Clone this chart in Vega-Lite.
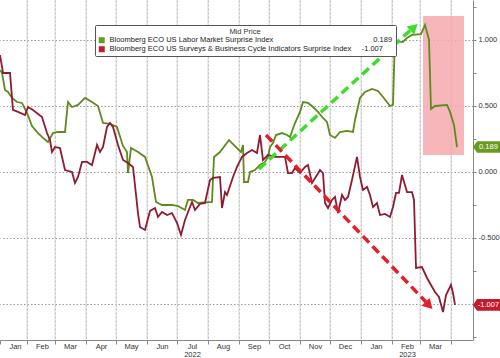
{
  "$schema": "https://vega.github.io/schema/vega-lite/v6.json",
  "width": 473,
  "height": 340,
  "autosize": {"type": "none"},
  "padding": {"left": 0, "top": 0, "right": 27, "bottom": 18},
  "background": "white",
  "config": {"font": "Liberation Sans", "view": {"stroke": null}},
  "datasets": {
    "months": [
      {"date": "2022-02-01", "value": 1.303, "value2": -1.273},
      {"date": "2022-03-01", "value": 1.303, "value2": -1.273},
      {"date": "2022-04-01", "value": 1.303, "value2": -1.273},
      {"date": "2022-05-01", "value": 1.303, "value2": -1.273},
      {"date": "2022-06-01", "value": 1.303, "value2": -1.273},
      {"date": "2022-07-01", "value": 1.303, "value2": -1.273},
      {"date": "2022-08-01", "value": 1.303, "value2": -1.273},
      {"date": "2022-09-01", "value": 1.303, "value2": -1.273},
      {"date": "2022-10-01", "value": 1.303, "value2": -1.273},
      {"date": "2022-11-01", "value": 1.303, "value2": -1.273},
      {"date": "2022-12-01", "value": 1.303, "value2": -1.273},
      {"date": "2023-01-01", "value": 1.303, "value2": -1.273},
      {"date": "2023-02-01", "value": 1.303, "value2": -1.273},
      {"date": "2023-03-01", "value": 1.303, "value2": -1.273},
      {"date": "2023-04-01", "value": 1.303, "value2": -1.273}
    ],
    "main": [
      {"date": "2022-01-05", "series": "Labor", "value": 0.773},
      {"date": "2022-01-07", "series": "Labor", "value": 0.750},
      {"date": "2022-01-10", "series": "Labor", "value": 0.621},
      {"date": "2022-01-13", "series": "Labor", "value": 0.606},
      {"date": "2022-01-17", "series": "Labor", "value": 0.561},
      {"date": "2022-01-22", "series": "Labor", "value": 0.530},
      {"date": "2022-01-27", "series": "Labor", "value": 0.523},
      {"date": "2022-02-01", "series": "Labor", "value": 0.447},
      {"date": "2022-02-06", "series": "Labor", "value": 0.348},
      {"date": "2022-02-12", "series": "Labor", "value": 0.295},
      {"date": "2022-02-17", "series": "Labor", "value": 0.258},
      {"date": "2022-02-22", "series": "Labor", "value": 0.227},
      {"date": "2022-02-27", "series": "Labor", "value": 0.295},
      {"date": "2022-03-04", "series": "Labor", "value": 0.303},
      {"date": "2022-03-11", "series": "Labor", "value": 0.303},
      {"date": "2022-03-14", "series": "Labor", "value": 0.530},
      {"date": "2022-03-18", "series": "Labor", "value": 0.492},
      {"date": "2022-03-24", "series": "Labor", "value": 0.508},
      {"date": "2022-03-31", "series": "Labor", "value": 0.561},
      {"date": "2022-04-07", "series": "Labor", "value": 0.530},
      {"date": "2022-04-13", "series": "Labor", "value": 0.500},
      {"date": "2022-04-18", "series": "Labor", "value": 0.371},
      {"date": "2022-04-25", "series": "Labor", "value": 0.364},
      {"date": "2022-05-02", "series": "Labor", "value": 0.341},
      {"date": "2022-05-08", "series": "Labor", "value": 0.197},
      {"date": "2022-05-12", "series": "Labor", "value": 0.151},
      {"date": "2022-05-13", "series": "Labor", "value": -0.008},
      {"date": "2022-05-16", "series": "Labor", "value": 0.182},
      {"date": "2022-05-23", "series": "Labor", "value": 0.151},
      {"date": "2022-05-30", "series": "Labor", "value": 0.114},
      {"date": "2022-06-06", "series": "Labor", "value": -0.038},
      {"date": "2022-06-10", "series": "Labor", "value": -0.227},
      {"date": "2022-06-16", "series": "Labor", "value": -0.250},
      {"date": "2022-06-26", "series": "Labor", "value": -0.250},
      {"date": "2022-07-02", "series": "Labor", "value": -0.258},
      {"date": "2022-07-09", "series": "Labor", "value": -0.288},
      {"date": "2022-07-12", "series": "Labor", "value": -0.212},
      {"date": "2022-07-17", "series": "Labor", "value": -0.212},
      {"date": "2022-07-22", "series": "Labor", "value": -0.235},
      {"date": "2022-08-05", "series": "Labor", "value": -0.227},
      {"date": "2022-08-07", "series": "Labor", "value": 0.114},
      {"date": "2022-08-13", "series": "Labor", "value": 0.151},
      {"date": "2022-08-22", "series": "Labor", "value": 0.242},
      {"date": "2022-08-29", "series": "Labor", "value": 0.189},
      {"date": "2022-09-03", "series": "Labor", "value": 0.151},
      {"date": "2022-09-05", "series": "Labor", "value": 0.205},
      {"date": "2022-09-06", "series": "Labor", "value": -0.076},
      {"date": "2022-09-10", "series": "Labor", "value": -0.076},
      {"date": "2022-09-12", "series": "Labor", "value": 0.000},
      {"date": "2022-09-17", "series": "Labor", "value": 0.015},
      {"date": "2022-09-22", "series": "Labor", "value": 0.053},
      {"date": "2022-09-27", "series": "Labor", "value": 0.076},
      {"date": "2022-09-30", "series": "Labor", "value": 0.114},
      {"date": "2022-10-02", "series": "Labor", "value": 0.189},
      {"date": "2022-10-05", "series": "Labor", "value": 0.220},
      {"date": "2022-10-08", "series": "Labor", "value": 0.280},
      {"date": "2022-10-14", "series": "Labor", "value": 0.295},
      {"date": "2022-10-19", "series": "Labor", "value": 0.280},
      {"date": "2022-10-22", "series": "Labor", "value": 0.265},
      {"date": "2022-10-27", "series": "Labor", "value": 0.371},
      {"date": "2022-11-01", "series": "Labor", "value": 0.455},
      {"date": "2022-11-04", "series": "Labor", "value": 0.530},
      {"date": "2022-11-09", "series": "Labor", "value": 0.523},
      {"date": "2022-11-14", "series": "Labor", "value": 0.492},
      {"date": "2022-11-19", "series": "Labor", "value": 0.455},
      {"date": "2022-11-24", "series": "Labor", "value": 0.409},
      {"date": "2022-11-28", "series": "Labor", "value": 0.379},
      {"date": "2022-12-01", "series": "Labor", "value": 0.280},
      {"date": "2022-12-06", "series": "Labor", "value": 0.258},
      {"date": "2022-12-11", "series": "Labor", "value": 0.303},
      {"date": "2022-12-18", "series": "Labor", "value": 0.311},
      {"date": "2022-12-24", "series": "Labor", "value": 0.303},
      {"date": "2022-12-26", "series": "Labor", "value": 0.394},
      {"date": "2022-12-31", "series": "Labor", "value": 0.561},
      {"date": "2023-01-05", "series": "Labor", "value": 0.606},
      {"date": "2023-01-12", "series": "Labor", "value": 0.629},
      {"date": "2023-01-18", "series": "Labor", "value": 0.614},
      {"date": "2023-01-23", "series": "Labor", "value": 0.568},
      {"date": "2023-01-30", "series": "Labor", "value": 0.500},
      {"date": "2023-02-02", "series": "Labor", "value": 0.508},
      {"date": "2023-02-04", "series": "Labor", "value": 1.038},
      {"date": "2023-02-06", "series": "Labor", "value": 0.985},
      {"date": "2023-02-12", "series": "Labor", "value": 0.985},
      {"date": "2023-02-16", "series": "Labor", "value": 1.015},
      {"date": "2023-02-21", "series": "Labor", "value": 1.038},
      {"date": "2023-03-02", "series": "Labor", "value": 1.045},
      {"date": "2023-03-06", "series": "Labor", "value": 1.114},
      {"date": "2023-03-10", "series": "Labor", "value": 1.003},
      {"date": "2023-03-12", "series": "Labor", "value": 0.477},
      {"date": "2023-03-16", "series": "Labor", "value": 0.500},
      {"date": "2023-03-28", "series": "Labor", "value": 0.508},
      {"date": "2023-03-31", "series": "Labor", "value": 0.455},
      {"date": "2023-04-04", "series": "Labor", "value": 0.356},
      {"date": "2023-04-07", "series": "Labor", "value": 0.189},
      {"date": "2022-01-05", "series": "Surveys", "value": 0.886},
      {"date": "2022-01-08", "series": "Surveys", "value": 0.750},
      {"date": "2022-01-15", "series": "Surveys", "value": 0.750},
      {"date": "2022-01-18", "series": "Surveys", "value": 0.470},
      {"date": "2022-01-23", "series": "Surveys", "value": 0.455},
      {"date": "2022-01-30", "series": "Surveys", "value": 0.432},
      {"date": "2022-02-02", "series": "Surveys", "value": 0.492},
      {"date": "2022-02-07", "series": "Surveys", "value": 0.470},
      {"date": "2022-02-16", "series": "Surveys", "value": 0.417},
      {"date": "2022-02-21", "series": "Surveys", "value": 0.295},
      {"date": "2022-02-24", "series": "Surveys", "value": 0.242},
      {"date": "2022-02-26", "series": "Surveys", "value": 0.151},
      {"date": "2022-03-01", "series": "Surveys", "value": 0.189},
      {"date": "2022-03-06", "series": "Surveys", "value": 0.182},
      {"date": "2022-03-11", "series": "Surveys", "value": 0.015},
      {"date": "2022-03-18", "series": "Surveys", "value": 0.000},
      {"date": "2022-03-21", "series": "Surveys", "value": -0.083},
      {"date": "2022-03-24", "series": "Surveys", "value": -0.038},
      {"date": "2022-03-28", "series": "Surveys", "value": 0.076},
      {"date": "2022-04-02", "series": "Surveys", "value": 0.076},
      {"date": "2022-04-07", "series": "Surveys", "value": 0.053},
      {"date": "2022-04-12", "series": "Surveys", "value": 0.205},
      {"date": "2022-04-15", "series": "Surveys", "value": 0.151},
      {"date": "2022-04-18", "series": "Surveys", "value": 0.189},
      {"date": "2022-04-22", "series": "Surveys", "value": 0.341},
      {"date": "2022-04-25", "series": "Surveys", "value": 0.371},
      {"date": "2022-04-28", "series": "Surveys", "value": 0.341},
      {"date": "2022-05-03", "series": "Surveys", "value": 0.205},
      {"date": "2022-05-08", "series": "Surveys", "value": 0.091},
      {"date": "2022-05-13", "series": "Surveys", "value": 0.068},
      {"date": "2022-05-18", "series": "Surveys", "value": 0.038},
      {"date": "2022-05-23", "series": "Surveys", "value": -0.311},
      {"date": "2022-05-25", "series": "Surveys", "value": -0.417},
      {"date": "2022-05-30", "series": "Surveys", "value": -0.439},
      {"date": "2022-06-04", "series": "Surveys", "value": -0.295},
      {"date": "2022-06-09", "series": "Surveys", "value": -0.273},
      {"date": "2022-06-12", "series": "Surveys", "value": -0.341},
      {"date": "2022-06-16", "series": "Surveys", "value": -0.303},
      {"date": "2022-06-21", "series": "Surveys", "value": -0.326},
      {"date": "2022-06-26", "series": "Surveys", "value": -0.311},
      {"date": "2022-07-01", "series": "Surveys", "value": -0.386},
      {"date": "2022-07-05", "series": "Surveys", "value": -0.477},
      {"date": "2022-07-09", "series": "Surveys", "value": -0.364},
      {"date": "2022-07-16", "series": "Surveys", "value": -0.227},
      {"date": "2022-07-19", "series": "Surveys", "value": -0.288},
      {"date": "2022-07-24", "series": "Surveys", "value": -0.242},
      {"date": "2022-07-29", "series": "Surveys", "value": -0.235},
      {"date": "2022-08-03", "series": "Surveys", "value": -0.061},
      {"date": "2022-08-06", "series": "Surveys", "value": -0.045},
      {"date": "2022-08-13", "series": "Surveys", "value": -0.038},
      {"date": "2022-08-15", "series": "Surveys", "value": -0.273},
      {"date": "2022-08-18", "series": "Surveys", "value": -0.152},
      {"date": "2022-08-20", "series": "Surveys", "value": -0.174},
      {"date": "2022-08-26", "series": "Surveys", "value": -0.038},
      {"date": "2022-08-30", "series": "Surveys", "value": 0.038},
      {"date": "2022-09-04", "series": "Surveys", "value": 0.114},
      {"date": "2022-09-09", "series": "Surveys", "value": 0.144},
      {"date": "2022-09-14", "series": "Surveys", "value": 0.167},
      {"date": "2022-09-19", "series": "Surveys", "value": 0.144},
      {"date": "2022-09-22", "series": "Surveys", "value": 0.280},
      {"date": "2022-09-25", "series": "Surveys", "value": 0.091},
      {"date": "2022-09-30", "series": "Surveys", "value": 0.129},
      {"date": "2022-10-07", "series": "Surveys", "value": 0.114},
      {"date": "2022-10-17", "series": "Surveys", "value": 0.114},
      {"date": "2022-10-20", "series": "Surveys", "value": -0.008},
      {"date": "2022-10-24", "series": "Surveys", "value": -0.008},
      {"date": "2022-10-27", "series": "Surveys", "value": 0.030},
      {"date": "2022-11-01", "series": "Surveys", "value": -0.008},
      {"date": "2022-11-06", "series": "Surveys", "value": 0.038},
      {"date": "2022-11-09", "series": "Surveys", "value": 0.053},
      {"date": "2022-11-13", "series": "Surveys", "value": -0.083},
      {"date": "2022-11-18", "series": "Surveys", "value": -0.023},
      {"date": "2022-11-21", "series": "Surveys", "value": 0.015},
      {"date": "2022-11-24", "series": "Surveys", "value": -0.008},
      {"date": "2022-11-26", "series": "Surveys", "value": -0.235},
      {"date": "2022-11-29", "series": "Surveys", "value": -0.273},
      {"date": "2022-12-03", "series": "Surveys", "value": -0.212},
      {"date": "2022-12-06", "series": "Surveys", "value": -0.189},
      {"date": "2022-12-09", "series": "Surveys", "value": -0.311},
      {"date": "2022-12-13", "series": "Surveys", "value": -0.174},
      {"date": "2022-12-16", "series": "Surveys", "value": -0.212},
      {"date": "2022-12-19", "series": "Surveys", "value": -0.189},
      {"date": "2022-12-23", "series": "Surveys", "value": -0.061},
      {"date": "2022-12-28", "series": "Surveys", "value": 0.114},
      {"date": "2022-12-31", "series": "Surveys", "value": -0.038},
      {"date": "2023-01-03", "series": "Surveys", "value": -0.136},
      {"date": "2023-01-07", "series": "Surveys", "value": -0.114},
      {"date": "2023-01-10", "series": "Surveys", "value": -0.174},
      {"date": "2023-01-13", "series": "Surveys", "value": -0.265},
      {"date": "2023-01-17", "series": "Surveys", "value": -0.235},
      {"date": "2023-01-20", "series": "Surveys", "value": -0.326},
      {"date": "2023-01-25", "series": "Surveys", "value": -0.318},
      {"date": "2023-01-30", "series": "Surveys", "value": -0.341},
      {"date": "2023-02-02", "series": "Surveys", "value": -0.265},
      {"date": "2023-02-05", "series": "Surveys", "value": -0.159},
      {"date": "2023-02-08", "series": "Surveys", "value": -0.159},
      {"date": "2023-02-11", "series": "Surveys", "value": -0.023},
      {"date": "2023-02-16", "series": "Surveys", "value": -0.152},
      {"date": "2023-02-21", "series": "Surveys", "value": -0.152},
      {"date": "2023-02-23", "series": "Surveys", "value": -0.212},
      {"date": "2023-02-25", "series": "Surveys", "value": -0.727},
      {"date": "2023-03-03", "series": "Surveys", "value": -0.720},
      {"date": "2023-03-08", "series": "Surveys", "value": -0.803},
      {"date": "2023-03-16", "series": "Surveys", "value": -0.909},
      {"date": "2023-03-20", "series": "Surveys", "value": -0.947},
      {"date": "2023-03-24", "series": "Surveys", "value": -1.061},
      {"date": "2023-03-27", "series": "Surveys", "value": -0.932},
      {"date": "2023-04-01", "series": "Surveys", "value": -0.856},
      {"date": "2023-04-03", "series": "Surveys", "value": -0.917},
      {"date": "2023-04-05", "series": "Surveys", "value": -1.007}
    ],
    "shade": [
      {"date": "2023-03-04", "date2": "2023-04-14", "value": 1.182, "value2": 0.129}
    ],
    "arrows": [
      {"arrow": "up", "date": "2022-09-21", "value": 0.023, "date2": "2023-02-19", "value2": 1.071},
      {"arrow": "down", "date": "2022-09-28", "value": 0.280, "date2": "2023-03-07", "value2": -0.985}
    ],
    "heads": [
      {"arrow": "up", "date": "2023-02-23", "value": 1.096},
      {"arrow": "down", "date": "2023-03-10", "value": -1.011}
    ],
    "badges": [
      {"date": "2023-04-07", "value": 0.189, "label": "0.189", "series": "Labor"},
      {"date": "2023-04-07", "value": -1.007, "label": "-1.007", "series": "Surveys"}
    ]
  },
  "encoding": {
    "x": {
      "field": "date", "type": "temporal",
      "scale": {"domain": [{"year": 2022, "month": 1, "date": 5}, {"year": 2023, "month": 4, "date": 23}]},
      "axis": {
        "orient": "bottom", "title": null,
        "values": [
          {"year": 2022, "month": 1, "date": 5},
          {"year": 2022, "month": 2, "date": 1}, {"year": 2022, "month": 3, "date": 1}, {"year": 2022, "month": 4, "date": 1},
          {"year": 2022, "month": 5, "date": 1}, {"year": 2022, "month": 6, "date": 1}, {"year": 2022, "month": 7, "date": 1},
          {"year": 2022, "month": 8, "date": 1}, {"year": 2022, "month": 9, "date": 1}, {"year": 2022, "month": 10, "date": 1},
          {"year": 2022, "month": 11, "date": 1}, {"year": 2022, "month": 12, "date": 1}, {"year": 2023, "month": 1, "date": 1},
          {"year": 2023, "month": 2, "date": 1}, {"year": 2023, "month": 3, "date": 1}, {"year": 2023, "month": 4, "date": 1}
        ],
        "format": "%b",
        "labelExpr": "year(datum.value) == 2023 && month(datum.value) == 3 ? '' : (year(datum.value) == 2022 && month(datum.value) == 6 ? [datum.label, '2022'] : (year(datum.value) == 2023 && month(datum.value) == 1 ? [datum.label, '2023'] : datum.label))",
        "labelOffset": 15, "labelFlush": false, "labelOverlap": false, "labelBound": false,
        "labelPadding": -2, "labelFontSize": 7.5, "labelColor": "#333", "labelLineHeight": 8.5,
        "grid": true, "gridColor": "#a0a0a0", "gridDash": [2, 2], "gridWidth": 1,
        "gridOpacity": {"condition": {"test": "year(datum.value) == 2022 && month(datum.value) == 0", "value": 0}, "value": 1},
        "tickSize": 4, "tickColor": "#888", "domain": true, "domainColor": "#888"
      }
    },
    "y": {
      "field": "value", "type": "quantitative",
      "scale": {"domain": [-1.273, 1.303], "nice": false, "zero": false},
      "axis": {
        "orient": "right", "title": null,
        "values": [-1.25, -1, -0.75, -0.5, -0.25, 0, 0.25, 0.5, 0.75, 1, 1.25],
        "format": ".3f",
        "labelExpr": "abs(datum.value % 0.5) < 0.001 ? replace(datum.label, '\u2212', '-') : ''",
        "gridOpacity": {"condition": {"test": "abs(datum.value % 0.5) < 0.001", "value": 1}, "value": 0},
        "grid": true, "gridColor": "#9a9a9a", "gridDash": [1.5, 2],
        "tickSize": 3, "tickColor": "#888", "domainColor": "#888",
        "labelPadding": 2, "labelFontSize": 7.5, "labelColor": "#333"
      }
    }
  },
  "layer": [
    {
      "data": {"name": "months"},
      "mark": {"type": "rect", "width": 1, "color": "#dcdcdc"},
      "encoding": {"y2": {"field": "value2"}}
    },
    {
      "data": {"name": "shade"},
      "mark": {"type": "rect", "color": "#f4a9ae", "opacity": 0.85},
      "encoding": {"x2": {"field": "date2"}, "y2": {"field": "value2"}}
    },
    {
      "data": {"name": "main"},
      "mark": {"type": "line", "strokeWidth": 1.8},
      "encoding": {
        "color": {
          "field": "series", "type": "nominal",
          "scale": {"domain": ["Labor", "Surveys"], "range": ["#5d8a1e", "#8e1b32"]},
          "legend": {
            "orient": "none", "legendX": 95, "legendY": 25, "direction": "vertical",
            "title": "Mid Price", "titleFontSize": 7.5, "titleFontWeight": "normal", "titleColor": "#333",
            "titleAnchor": "middle", "titlePadding": 1,
            "symbolType": "square", "symbolSize": 36,
            "labelFontSize": 7.5, "labelColor": "#222", "labelLimit": 600, "labelOffset": 4,
            "rowPadding": 0, "padding": 3, "strokeColor": "#555", "fillColor": "white", "cornerRadius": 1,
            "labelExpr": "datum.label == 'Labor' ? 'Bloomberg ECO US Labor Market Surprise Index' + pad('', 48, '\u00a0') + '0.189' : 'Bloomberg ECO US Surveys & Business Cycle Indicators Surprise Index' + pad('', 5, '\u00a0') + '-1.007'",
            "encode": {"symbols": {"update": {"fill": {"scale": "color", "field": "value"}, "fillOpacity": {"value": 1}, "strokeWidth": {"value": 0}}}}
          }
        }
      }
    },
    {
      "data": {"name": "arrows"},
      "mark": {"type": "rule", "strokeWidth": 3.5, "strokeDash": [9, 5]},
      "encoding": {
        "x2": {"field": "date2"},
        "y2": {"field": "value2"},
        "stroke": {"field": "arrow", "type": "nominal", "scale": {"domain": ["up", "down"], "range": ["#3fdc2f", "#e2202b"]}, "legend": null}
      }
    },
    {
      "data": {"name": "heads"},
      "transform": [{"filter": "datum.arrow == 'up'"}],
      "mark": {"type": "point", "shape": "triangle-up", "filled": true, "size": 130, "color": "#3fdc2f", "opacity": 1, "angle": 48}
    },
    {
      "data": {"name": "heads"},
      "transform": [{"filter": "datum.arrow == 'down'"}],
      "mark": {"type": "point", "shape": "triangle-up", "filled": true, "size": 130, "color": "#e2202b", "opacity": 1, "angle": 136}
    },
    {
      "data": {"name": "badges"},
      "mark": {"type": "point", "shape": "M1.6,0L2.0,-0.58L4.3,-0.58L4.3,0.58L2.0,0.58Z", "size": 400, "filled": true, "opacity": 1, "strokeWidth": 0},
      "encoding": {
        "fill": {"field": "series", "type": "nominal", "scale": {"domain": ["Labor", "Surveys"], "range": ["#6b9a22", "#c21a2e"]}, "legend": null}
      }
    },
    {
      "data": {"name": "badges"},
      "mark": {"type": "text", "dx": 31.5, "align": "center", "baseline": "middle", "fontSize": 7.5, "color": "white"},
      "encoding": {"text": {"field": "label"}}
    }
  ]
}
